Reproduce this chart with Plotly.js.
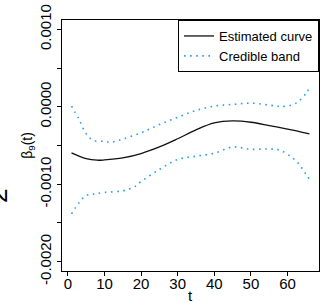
<!DOCTYPE html>
<html>
<head>
<meta charset="utf-8">
<script src="https://cdn.plot.ly/plotly-3.0.1.min.js"></script>
<style>html,body{margin:0;padding:0;background:#fff;}#chart{width:323px;height:303px;}</style>
</head>
<body>
<div id="chart"></div>
<script>
// Estimated curve
var tCurve = [1, 5, 8, 10, 15, 20, 25, 30, 35, 40, 45, 50, 55, 60, 66];
var estCurve = [-0.000596, -0.000670, -0.000690, -0.000686, -0.000660, -0.000604, -0.000519, -0.000413,
                -0.000298, -0.000209, -0.000183, -0.000200, -0.000243, -0.000289, -0.000349];

// Credible band (upper)
var tUpper = [1, 3, 5, 7, 10, 12, 15, 20, 25, 30, 35, 40, 45, 50, 55, 58, 61, 63, 65, 66];
var upperBand = [0.0000085, -0.000157, -0.000349, -0.000434, -0.000447, -0.000455, -0.000417,
                 -0.000336, -0.000230, -0.000136, -0.0000468, 0.0000085, 0.0000298, 0.0000468,
                 0.0000213, 0.0000043, 0.0000213, 0.000068, 0.000170, 0.000247];

// Credible band (lower)
var tLower = [1, 3, 5, 7, 10, 15, 18, 20, 25, 30, 35, 40, 45, 50, 55, 58, 61, 63, 65, 66];
var lowerBand = [-0.001383, -0.001243, -0.001145, -0.001128, -0.001106, -0.001085, -0.001038,
                 -0.000966, -0.000809, -0.000681, -0.000638, -0.000600, -0.000519, -0.000549,
                 -0.000545, -0.000562, -0.000647, -0.000732, -0.000868, -0.000936];

var xTicks = [0, 10, 20, 30, 40, 50, 60];
var yTickVals = [0.0010, 0.0005, 0.0000, -0.0005, -0.0010, -0.0015, -0.0020];
var yTickText = ["0.0010", "", "0.0000", "", "-0.0010", "", "-0.0020"];

var bandColor = "#2a9df4";
var font = "Liberation Sans, Arial, Helvetica, sans-serif";

var traces = [
  {x: tCurve, y: estCurve, mode: "lines", name: "Estimated curve",
   line: {color: "#111111", width: 1.3, shape: "spline"}},
  {x: tUpper, y: upperBand, mode: "lines", name: "Credible band",
   line: {color: bandColor, width: 1.6, dash: "1.6px,4.5px", shape: "spline"}},
  {x: tLower, y: lowerBand, mode: "lines", name: "Credible band", showlegend: false,
   line: {color: bandColor, width: 1.6, dash: "1.6px,4.5px", shape: "spline"}}
];

var layout = {
  width: 323, height: 303,
  margin: {l: 62, r: 4, t: 20, b: 32, pad: 0},
  paper_bgcolor: "#fff", plot_bgcolor: "#fff",
  font: {family: font, color: "#000", size: 14},
  showlegend: true,
  legend: {x: 1, xanchor: "right", y: 1, yanchor: "top",
           bordercolor: "#000", borderwidth: 1, bgcolor: "#fff",
           font: {family: font, size: 13}, tracegroupgap: 0,
           itemwidth: 30},
  xaxis: {range: [-1.6, 68.6], tickvals: xTicks, ticks: "outside", ticklen: 4,
          tickcolor: "#000", showgrid: false, zeroline: false, showline: true,
          mirror: true, linecolor: "#000", linewidth: 1, ticklabelstandoff: -5,
          tickfont: {family: font, size: 15}},
  yaxis: {range: [-0.00212, 0.00112], tickvals: yTickVals, ticktext: yTickText,
          ticks: "outside", ticklen: 4, tickcolor: "#000", tickangle: -90,
          showgrid: false, zeroline: false, showline: true, mirror: true,
          linecolor: "#000", linewidth: 1, tickfont: {family: font, size: 15}},
  annotations: [
    {text: "t", xref: "paper", yref: "paper", x: 0.5, y: -0.096, yanchor: "middle",
     xanchor: "center", showarrow: false, font: {family: font, size: 15}},
    {text: "β<sub>9</sub>(t)", xref: "paper", yref: "paper", x: -0.135, y: 0.5,
     xanchor: "center", yanchor: "middle", textangle: -90, showarrow: false,
     font: {family: font, size: 14}},
    {text: "2", xref: "paper", yref: "paper", x: -0.252, y: 0.30,
     xanchor: "center", yanchor: "middle", textangle: -90, showarrow: false,
     font: {family: font, size: 26}}
  ]
};

Plotly.newPlot("chart", traces, layout, {displayModeBar: false, staticPlot: true});
</script>
</body>
</html>
